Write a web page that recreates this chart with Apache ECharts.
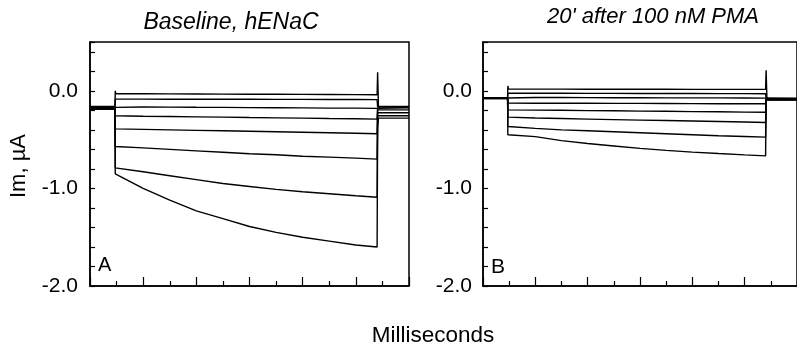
<!DOCTYPE html>
<html>
<head>
<meta charset="utf-8">
<script src="https://cdn.jsdelivr.net/npm/echarts@6/dist/echarts.min.js"></script>
<style>html,body{margin:0;padding:0;background:#fff;}#c{width:797px;height:349px;}</style>
</head>
<body>
<div id="c"></div>
<script>
// ---- data (milliseconds, µA) ----
const titles = ["Baseline, hENaC", "20' after 100 nM PMA"];
const panelLetters = ["A", "B"];
const yTickLabels = ["0.0", "-1.0", "-2.0"];
const stepTimes = [95, 1082];          // pulse on / off (ms)
const sampleTimes = [97, 200, 300, 400, 500, 600, 700, 800, 900, 1000, 1080];

// Panel A: baseline
const preA  = [-0.16, -0.165, -0.17, -0.17, -0.175, -0.18, -0.185, -0.19];
const onPeakA  = [0.0, -0.085, -0.165, -0.256, -0.39, -0.57, -0.79, -0.85];
const offPeakA = [0.19, -0.165, -0.17, -0.175, -0.195, -0.225, -0.255, -0.38];
const tailA = [-0.16, -0.165, -0.17, -0.175, -0.195, -0.225, -0.255, -0.28];
const tracesA = [
  [-0.03, -0.03, -0.032, -0.033, -0.034, -0.035, -0.036, -0.037, -0.038, -0.039, -0.04],
  [-0.085, -0.085, -0.086, -0.086, -0.087, -0.087, -0.088, -0.088, -0.089, -0.089, -0.09],
  [-0.165, -0.166, -0.167, -0.169, -0.17, -0.172, -0.173, -0.175, -0.177, -0.178, -0.18],
  [-0.256, -0.26, -0.263, -0.267, -0.27, -0.274, -0.277, -0.28, -0.284, -0.287, -0.29],
  [-0.39, -0.395, -0.40, -0.405, -0.41, -0.415, -0.42, -0.425, -0.43, -0.435, -0.44],
  [-0.57, -0.585, -0.60, -0.615, -0.63, -0.645, -0.655, -0.67, -0.68, -0.69, -0.70],
  [-0.79, -0.83, -0.87, -0.91, -0.95, -0.98, -1.01, -1.035, -1.055, -1.075, -1.09],
  [-0.84, -1.00, -1.12, -1.23, -1.31, -1.39, -1.45, -1.50, -1.54, -1.58, -1.60]
];

// Panel B: 20' after PMA
const preB  = [-0.07, -0.072, -0.074, -0.075, -0.076, -0.078, -0.08, -0.08];
const onPeakB  = [0.05, -0.024, -0.068, -0.126, -0.195, -0.27, -0.366, -0.45];
const offPeakB = [0.21, -0.08, -0.082, -0.085, -0.088, -0.09, -0.092, -0.095];
const tailB = [-0.075, -0.08, -0.082, -0.085, -0.088, -0.09, -0.092, -0.095];
const tracesB = [
  [0.017, 0.017, 0.017, 0.016, 0.016, 0.016, 0.016, 0.015, 0.015, 0.015, 0.015],
  [-0.024, -0.025, -0.025, -0.026, -0.026, -0.027, -0.027, -0.028, -0.029, -0.029, -0.03],
  [-0.068, -0.069, -0.069, -0.07, -0.071, -0.071, -0.072, -0.073, -0.073, -0.074, -0.075],
  [-0.126, -0.127, -0.127, -0.128, -0.129, -0.129, -0.13, -0.131, -0.132, -0.132, -0.133],
  [-0.195, -0.198, -0.2, -0.203, -0.205, -0.208, -0.21, -0.213, -0.215, -0.218, -0.22],
  [-0.27, -0.278, -0.284, -0.29, -0.295, -0.30, -0.305, -0.31, -0.315, -0.32, -0.325],
  [-0.366, -0.385, -0.40, -0.41, -0.42, -0.43, -0.44, -0.45, -0.46, -0.468, -0.475],
  [-0.43, -0.47, -0.51, -0.54, -0.565, -0.59, -0.61, -0.628, -0.643, -0.657, -0.667]
];

// ---- build ----
const FONT = "'Liberation Sans', Arial, Helvetica, sans-serif";
function buildTrace(pre, onPeak, vals, offPeak, tail) {
  const d = [[0, pre], [stepTimes[0] - 1, pre], [stepTimes[0], onPeak]];
  sampleTimes.forEach((t, k) => d.push([t, vals[k]]));
  d.push([stepTimes[1], offPeak]);
  d.push([stepTimes[1] + 3, tail]);
  d.push([1200, tail]);
  return d;
}
const series = [];
tracesA.forEach((v, i) => series.push({
  type: 'line', xAxisIndex: 0, yAxisIndex: 0, showSymbol: false, silent: true,
  lineStyle: { color: '#000', width: 1.4 },
  data: buildTrace(preA[i], onPeakA[i], v, offPeakA[i], tailA[i])
}));
tracesB.forEach((v, i) => series.push({
  type: 'line', xAxisIndex: 1, yAxisIndex: 1, showSymbol: false, silent: true,
  lineStyle: { color: '#000', width: 1.4 },
  data: buildTrace(preB[i], onPeakB[i], v, offPeakB[i], tailB[i])
}));

const axLine = { show: true, onZero: false, lineStyle: { color: '#000', width: 1.5 } };
const grids = [
  { left: 90, top: 42, width: 319, height: 244 },
  { left: 483, top: 42, width: 319, height: 244 }
];
const option = {
  animation: false,
  backgroundColor: '#fff',
  grid: grids.map(g => Object.assign({ show: true, borderColor: '#000', borderWidth: 1.5, containLabel: false }, g)),
  xAxis: [0, 1].map(i => ({
    type: 'value', gridIndex: i, min: 0, max: 1200, interval: 200,
    axisLine: axLine,
    axisTick: { show: true, inside: true, length: 9, lineStyle: { color: '#000', width: 1.2 } },
    minorTick: { show: true, splitNumber: 2, length: 5, lineStyle: { color: '#000', width: 1.2 } },
    axisLabel: { show: false }, splitLine: { show: false }, minorSplitLine: { show: false }
  })),
  yAxis: [0, 1].map(i => ({
    type: 'value', gridIndex: i, min: -2, max: 0.5, interval: 0.2,
    axisLine: axLine,
    axisTick: { show: true, inside: true, length: 5, lineStyle: { color: '#000', width: 1.2 } },
    axisLabel: {
      show: true, margin: i === 0 ? 12 : 11, color: '#000', fontSize: 21, fontFamily: FONT,
      formatter: v => {
        const idx = [0, -1, -2].findIndex(t => Math.abs(v - t) < 1e-6);
        return idx >= 0 ? yTickLabels[idx] : '';
      }
    },
    splitLine: { show: false }
  })),
  series: series,
  graphic: [
    { type: 'text', x: 231, y: 22.5, style: { text: titles[0], font: 'italic 23px ' + FONT, fill: '#000', align: 'center', verticalAlign: 'middle' } },
    { type: 'text', x: 653, y: 16.5, style: { text: titles[1], font: 'italic 22px ' + FONT, fill: '#000', align: 'center', verticalAlign: 'middle' } },
    { type: 'text', x: 19, y: 166, rotation: Math.PI / 2, style: { text: 'Im, µA', font: '22px ' + FONT, fill: '#000', align: 'center', verticalAlign: 'middle' } },
    { type: 'text', x: 433, y: 335.5, style: { text: 'Milliseconds', font: '22.5px ' + FONT, fill: '#000', align: 'center', verticalAlign: 'middle' } },
    { type: 'text', x: 98, y: 265.5, style: { text: panelLetters[0], font: '20px ' + FONT, fill: '#000', align: 'left', verticalAlign: 'middle' } },
    { type: 'text', x: 491, y: 267, style: { text: panelLetters[1], font: '21px ' + FONT, fill: '#000', align: 'left', verticalAlign: 'middle' } }
  ]
};
const chart = echarts.init(document.getElementById('c'), null, { renderer: 'canvas' });
chart.setOption(option);
</script>
</body>
</html>
